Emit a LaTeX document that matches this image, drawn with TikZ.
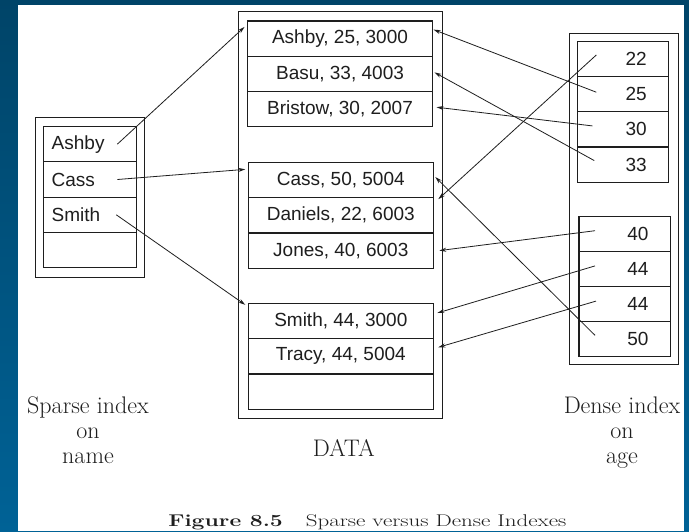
\documentclass[tikz,border=0pt]{standalone}
\usepackage{fontspec}
\setsansfont{Liberation Sans}
\usetikzlibrary{arrows.meta,positioning,fit}

\definecolor{slidetop}{RGB}{0,68,104}
\definecolor{slidebot}{RGB}{0,98,150}
\definecolor{ink}{RGB}{30,30,30}

\begin{document}
\begin{tikzpicture}[
  x=1pt, y=-1pt,
  line width=1.1pt, draw=ink,
  node distance=0pt,
  rec/.style={draw, outer sep=0pt, inner sep=0pt, minimum width=185pt, minimum height=35.3pt, text=ink, font=\fontsize{19}{21}\sffamily},
  key/.style={draw, outer sep=0pt, inner xsep=8pt, inner ysep=0pt, text width=76.6pt, align=left, minimum height=35.3pt, text=ink, font=\fontsize{19}{21}\sffamily},
  age/.style={draw, outer sep=0pt, inner xsep=22pt, inner ysep=0pt, text width=47.4pt, align=right, minimum height=35.2pt, text=ink, font=\fontsize{19}{21}\sffamily},
  holder/.style={draw, inner sep=8pt},
  note/.style={align=center, inner sep=0pt, text=ink, font=\fontsize{24}{25}\selectfont},
  arrow/.style={-{Stealth[length=7pt,width=4pt]}, line width=0.8pt, draw=ink}
]
\useasboundingbox (0,0) rectangle (689,531);
\fill[top color=slidetop, bottom color=slidebot] (0,0) rectangle (689,531);
\fill[white] (18,5) rectangle (684,531);

% data file
\node[rec] (d1) at (340,38.6) {Ashby, 25, 3000};
\node[rec, below=of d1] (d2) {Basu, 33, 4003};
\node[rec, below=of d2] (d3) {Bristow, 30, 2007};
\node[rec] (d4) at (340.8,180) {Cass, 50, 5004};
\node[rec, below=of d4] (d5) {Daniels, 22, 6003};
\node[rec, below=of d5] (d6) {Jones, 40, 6003};
\node[rec] (d7) at (340.8,321) {Smith, 44, 3000};
\node[rec, below=of d7] (d8) {Tracy, 44, 5004};
\node[rec, below=of d8] (d9) {};
\node[holder, fit=(d1)(d9), inner xsep=9pt, inner ysep=9.5pt] (data) {};

% sparse index
\node[key] (s1) at (90,144.2) {Ashby};
\node[key, below=of s1] (s2) {Cass};
\node[key, below=of s2] (s3) {Smith};
\node[key, below=of s3] (s4) {};
\node[holder, fit=(s1)(s4), inner ysep=9.5pt] (sparse) {};

% dense index
\node[age] (a1) at (623,59) {22};
\node[age, below=of a1] (a2) {25};
\node[age, below=of a2] (a3) {30};
\node[age, below=of a3] (a4) {33};
\node[age] (b1) at (624.7,233.7) {40};
\node[age, below=of b1] (b2) {44};
\node[age, below=of b2] (b3) {44};
\node[age, below=of b3] (b4) {50};
\node[holder, fit=(a1)(b4)] (dense) {};

% labels
\node[note, anchor=north] (sparselbl) at (88,396) {Sparse index\\on\\name};
\node[note, anchor=north] (denselbl) at (622,396) {Dense index\\on\\age};
\node[note, anchor=base] (datalbl) at (343.8,456) {DATA};
\node[anchor=base, inner sep=0pt, text=ink, font=\fontsize{17}{18}\selectfont] (caption) at (367.3,526.5)
  {\scalebox{1.35}[1]{\textbf{Figure 8.5}\quad Sparse versus Dense Indexes}};

% sparse pointers
\draw[arrow] ([xshift=-19pt]s1.east) -- ([xshift=-3pt,yshift=-6pt]d1.north west);
\draw[arrow] ([xshift=-19pt]s2.east) -- ([xshift=-3pt,yshift=-7pt]d4.north west);
\draw[arrow] ([xshift=-20pt]s3.east) -- ([xshift=-3pt,yshift=-1.5pt]d7.north west);

% dense pointers
\draw[arrow] ([xshift=19pt,yshift=4pt]a1.west) -- ([xshift=5pt,yshift=-1.5pt]d5.north east);
\draw[arrow] ([xshift=19pt,yshift=2pt]a2.west) -- ([xshift=1pt,yshift=9pt]d1.east);
\draw[arrow] ([xshift=15pt,yshift=3.5pt]a3.west) -- ([xshift=4pt,yshift=2pt]d3.east);
\draw[arrow] ([xshift=17pt,yshift=4pt]a4.west) -- ([xshift=2pt,yshift=1.5pt]d2.east);
\draw[arrow] ([xshift=16pt,yshift=3pt]b1.west) -- ([xshift=6pt]d6.east);
\draw[arrow] ([xshift=16pt,yshift=3pt]b2.west) -- ([xshift=4pt,yshift=8pt]d7.east);
\draw[arrow] ([xshift=17pt,yshift=3pt]b3.west) -- ([xshift=5pt,yshift=9pt]d8.east);
\draw[arrow] ([xshift=16pt,yshift=4pt]b4.west) -- ([xshift=2pt,yshift=3pt]d4.east);
\end{tikzpicture}
\end{document}
